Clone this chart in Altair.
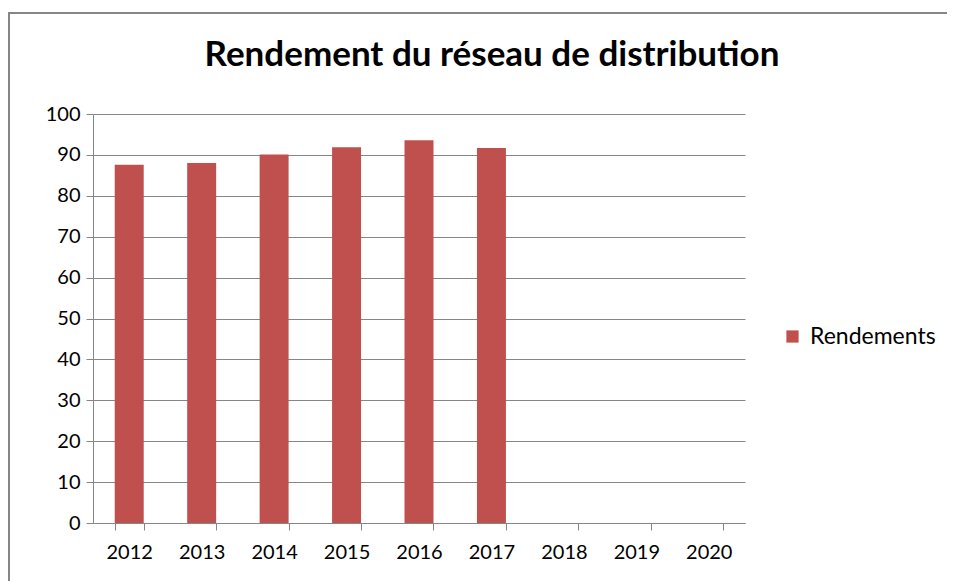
import altair as alt
import pandas as pd

years = ["2012", "2013", "2014", "2015", "2016", "2017", "2018", "2019", "2020"]
values = [87.6, 88.0, 90.1, 91.9, 93.6, 91.7, None, None, None]
series = "Rendements"
y_ticks = [0, 10, 20, 30, 40, 50, 60, 70, 80, 90, 100]
title_text = ["Rendement du réseau de distribution"]

df = pd.DataFrame({"year": years, "value": values, "series": [series] * len(years)})

FONT = "Lato"
GRAY = "#868686"
RED = "#C0504D"

bars = alt.Chart(df).mark_bar(color=RED).encode(
    x=alt.X("year:N", sort=years,
            scale=alt.Scale(domain=years, paddingInner=0.6, paddingOuter=0.3),
            axis=alt.Axis(title=None, labelAngle=0, tickBand="extent", domainColor=GRAY,
                          tickColor=GRAY, tickSize=7, labelFontSize=20, labelFont=FONT,
                          labelColor="#000000", labelPadding=12, grid=False)),
    y=alt.Y("value:Q", scale=alt.Scale(domain=[0, 100], nice=False),
            axis=alt.Axis(title=None, values=y_ticks, domainColor=GRAY, tickColor=GRAY,
                          tickSize=7, gridColor=GRAY, gridWidth=1, labelFontSize=20,
                          labelFont=FONT, labelColor="#000000", labelPadding=6)),
    color=alt.Color("series:N", scale=alt.Scale(domain=[series], range=[RED]),
                    legend=alt.Legend(title=None, orient="none", legendX=688, legendY=211,
                                      symbolType="square", symbolSize=150,
                                      symbolStrokeWidth=0, labelFontSize=23,
                                      labelFont=FONT, labelColor="#000000",
                                      labelOffset=6)),
)

frame_data = alt.Data(values=[{}])
top_line = alt.Chart(frame_data).mark_rule(color=GRAY, strokeWidth=2).encode(
    x=alt.value(-85), x2=alt.value(900), y=alt.value(-101), y2=alt.value(-101))
left_line = alt.Chart(frame_data).mark_rule(color=GRAY, strokeWidth=2).encode(
    x=alt.value(-84), x2=alt.value(-84), y=alt.value(-101), y2=alt.value(470))

title = alt.Chart(pd.DataFrame({"t": title_text})).mark_text(
    font=FONT, fontSize=35, fontWeight="bold", color="#000000",
    align="center", baseline="alphabetic",
).encode(text="t:N", x=alt.value(399), y=alt.value(-48))

chart = alt.layer(top_line, left_line, bars, title).properties(
    width=652, height=409,
    autosize=alt.AutoSizeParams(type="none"),
    padding={"left": 85, "top": 106, "right": 202, "bottom": 58},
).configure_view(stroke=None)

chart.save("out.html", embed_options={"renderer": "svg", "actions": False})
